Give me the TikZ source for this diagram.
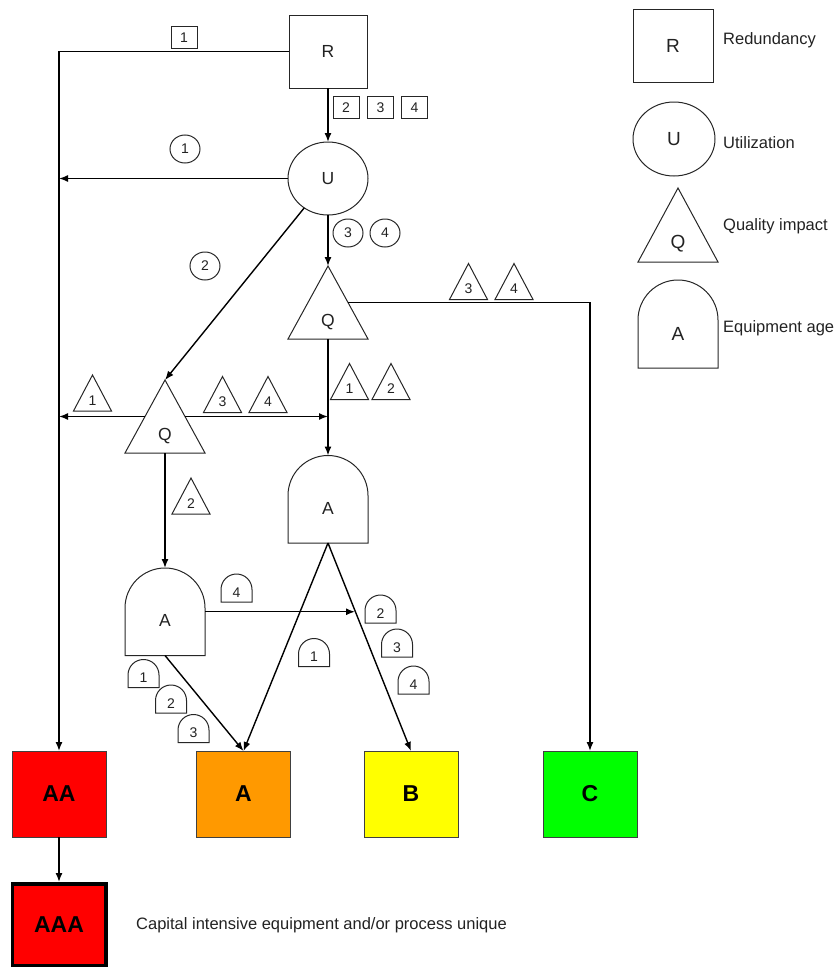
\documentclass[tikz,border=0pt]{standalone}
\usepackage{fontspec}
\setmainfont{Liberation Sans}
\usetikzlibrary{arrows.meta,shapes.geometric,calc}
\definecolor{gred}{HTML}{FF0000}
\definecolor{gorange}{HTML}{FF9900}
\definecolor{gyellow}{HTML}{FFFF00}
\definecolor{ggreen}{HTML}{00FF00}
\definecolor{shapeline}{HTML}{262626}
\definecolor{txt}{HTML}{222222}
\begin{document}
\begin{tikzpicture}[x=1pt,y=1pt]
\tikzset{
  ln/.style={line width=1.4pt, draw=black},
  arr/.style={ln, -{Latex[length=9pt,width=7pt]}},
  shp/.style={line width=1pt, draw=shapeline},
  bigfont/.style={font=\fontsize{17.5}{20}\selectfont, text=txt},
  bigsq/.style={bigfont, shp, rectangle, minimum width=78pt, minimum height=73pt, inner sep=0pt, outer sep=0pt},
  bigel/.style={bigfont, shp, ellipse, minimum width=80pt, minimum height=73pt, inner sep=0pt, outer sep=0pt},
  bigtri/.style={bigfont, rectangle, minimum width=80pt, inner sep=0pt, outer sep=0pt, text height=60pt, text depth=13pt},
  bigdome/.style={bigfont, rectangle, minimum width=80pt, inner sep=0pt, outer sep=0pt, text height=58.5pt, text depth=29pt},
  smallfont/.style={font=\fontsize{14}{16}\selectfont, text=txt},
  lsq/.style={smallfont, shp, rectangle, minimum width=26pt, minimum height=22pt, inner sep=0pt},
  lci/.style={smallfont, shp, ellipse, minimum width=30pt, minimum height=28pt, inner sep=0pt},
  ltri/.style={smallfont, rectangle, minimum width=38pt, inner sep=0pt, outer sep=0pt, text height=30pt, text depth=6pt},
  ldome/.style={smallfont, rectangle, minimum width=31pt, inner sep=0pt, outer sep=0pt, text height=23pt, text depth=5pt},
  grade/.style={draw=black!75, line width=1pt, rectangle, minimum width=94pt, minimum height=86pt, inner sep=0pt, outer sep=0pt, font=\bfseries\fontsize{23}{26}\selectfont},
  legtext/.style={anchor=west, font=\fontsize{16.5}{19}\selectfont, text=txt, inner sep=0pt}
}
\useasboundingbox (0,0) rectangle (838,-969);

% main nodes
\node[bigsq] (r) at (328,-51.5) {R};
\node[bigel] (u) at (328,-178.5) {U};
\node[bigtri] (q1) at (328,-302.5) {Q};
\node[bigtri] (q2) at (165,-416.5) {Q};
\node[bigdome] (a1) at (328,-499.25) {A};
\node[bigdome] (a2) at (165,-611.75) {A};

% grade boxes
\node[grade, fill=gred] (aa) at (59,-794) {AA};
\node[grade, fill=gorange] (ga) at (243.5,-794) {A};
\node[grade, fill=gyellow] (gb) at (411,-794) {B};
\node[grade, fill=ggreen] (gc) at (590,-794) {C};
\node[draw=black, line width=3.5pt, fill=gred, minimum width=93.5pt, minimum height=81.5pt, inner sep=0pt, outer sep=1.75pt, font=\bfseries\fontsize{23}{26}\selectfont] (aaa) at (59,-924.5) {AAA};
\node[legtext] (capt) at (136,-925) {Capital intensive equipment and/or process unique};

% legend
\node[bigsq, minimum width=80pt, font=\fontsize{19}{22}\selectfont] (lr) at (673,-45.5) {R};
\node[legtext] (lrt) at (723,-40) {Redundancy};
\node[bigel, minimum width=82pt, minimum height=74pt, font=\fontsize{19}{22}\selectfont] (lu) at (674,-139) {U};
\node[legtext] (lut) at (723,-143) {Utilization};
\node[bigtri, text height=60pt, text depth=14pt, font=\fontsize{19}{22}\selectfont] (lq) at (678,-225) {Q};
\node[legtext] (lqt) at (723,-226) {Quality impact};
\node[bigdome, text height=60pt, text depth=28pt, font=\fontsize{19}{22}\selectfont] (la) at (678,-324) {A};
\node[legtext] (lat) at (723,-328) {Equipment age};

% square labels
\node[lsq] (s1) at (184,-37.5) {1};
\node[lsq] (s2) at (346,-107.5) {2};
\node[lsq] (s3) at (380.5,-107.5) {3};
\node[lsq] (s4) at (414.5,-107.5) {4};
% circle labels
\node[lci] (c1) at (185,-149) {1};
\node[lci] (c2) at (205,-266) {2};
\node[lci] (c3) at (348,-233) {3};
\node[lci] (c4) at (385,-233) {4};
% triangle labels
\node[ltri] (t1) at (468.5,-281.5) {3};
\node[ltri] (t2) at (514,-281.5) {4};
\node[ltri] (t3) at (349.5,-381.5) {1};
\node[ltri] (t4) at (391,-381.5) {2};
\node[ltri] (t5) at (92.5,-393) {1};
\node[ltri] (t6) at (222.5,-394.5) {3};
\node[ltri] (t7) at (268,-394.5) {4};
\node[ltri] (t8) at (191,-496) {2};
% dome labels
\node[ldome] (d1) at (236.5,-588) {4};
\node[ldome] (d2) at (380.5,-609) {2};
\node[ldome] (d3) at (397,-643) {3};
\node[ldome] (d4) at (413.5,-680) {4};
\node[ldome] (d5) at (314,-652.5) {1};
\node[ldome] (d6) at (143.5,-673.5) {1};
\node[ldome] (d7) at (171,-699) {2};
\node[ldome] (d8) at (193.5,-728.5) {3};

% shape outlines
\foreach \n in {q1,q2,lq,t1,t2,t3,t4,t5,t6,t7,t8}{
  \draw[shp] (\n.north) -- (\n.south east) -- (\n.south west) -- cycle;
}
\foreach \n/\rr in {a1/40,a2/40,la/40,d1/15.5,d2/15.5,d3/15.5,d4/15.5,d5/15.5,d6/15.5,d7/15.5,d8/15.5}{
  \draw[shp] (\n.south west) -- ([yshift=-\rr pt]\n.north west) arc[start angle=180,end angle=0,radius=\rr pt] -- (\n.south east) -- cycle;
}

% free ends
\coordinate (ul) at (59,-178.5);
\coordinate (q2l) at (59,-416.5);
\coordinate (q2r) at (328,-416.5);
\coordinate (a2r) at (355,-611.75);

% connectors
\draw[arr] (r.west) -| (aa.north);
\draw[arr] (r.south) -- (u.north);
\draw[arr] (u.west) -- (ul);
\draw[arr] (u) -- (q2.north);
\draw[arr] (u.south) -- (q1.north);
\draw[arr] ($(q1.north)!0.5!(q1.south east)$) -| (gc.north);
\draw[arr] (q1.south) -- (a1.north);
\draw[arr] ($(q2.north)!0.5!(q2.south west)$) -- (q2l);
\draw[arr] ($(q2.north)!0.5!(q2.south east)$) -- (q2r);
\draw[arr] (q2.south) -- (a2.north);
\draw[arr] (a2.east) -- (a2r);
\draw[arr] (a1.south) -- (ga.north);
\draw[arr] (a1.south) -- (gb.north);
\draw[arr] (a2.south) -- (ga.north);
\draw[arr] (aa.south) -- (aaa.north);
\end{tikzpicture}
\end{document}
